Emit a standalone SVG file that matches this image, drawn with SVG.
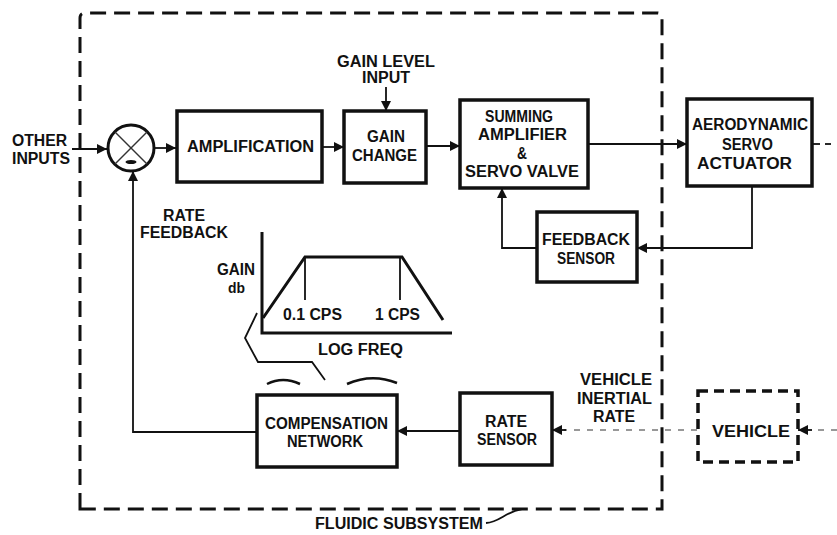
<svg xmlns="http://www.w3.org/2000/svg" width="837" height="535" viewBox="0 0 837 535">
<style>
.t{font-family:"Liberation Sans",Arial,sans-serif;font-weight:bold;font-size:16px;fill:#111;text-anchor:middle}
.box{fill:none;stroke:#111;stroke-width:3.5}
.ln{fill:none;stroke:#111;stroke-width:1.8}
.g{fill:none;stroke:#111;stroke-width:3}
.dash{fill:none;stroke:#111;stroke-width:3;stroke-dasharray:16 8}
.dot{fill:none;stroke:#777;stroke-width:1.3;stroke-dasharray:6 7}
</style>
<defs>
<marker id="ah" viewBox="0 0 10 10" refX="10" refY="5" markerWidth="12" markerHeight="10" markerUnits="userSpaceOnUse" orient="auto">
<path d="M0,0 L10,5 L0,10 Z" fill="#111"/>
</marker>
</defs>
<rect width="837" height="535" fill="#fff"/>

<g id="fluidic-subsystem">
<path class="dash" d="M80,509 L80,18 Q80,13 85,13 L657,13 Q662,13 662,18 L662,509 Z"/>
<text class="t" x="399" y="529" textLength="168" lengthAdjust="spacingAndGlyphs">FLUIDIC SUBSYSTEM</text>
<path class="ln" d="M486,523 C500,522 505,512 522,509"/>
</g>

<g id="connectors">
<line class="ln" x1="72" y1="149" x2="107" y2="149" marker-end="url(#ah)"/>
<line class="ln" x1="155" y1="148" x2="176" y2="148" marker-end="url(#ah)"/>
<line class="ln" x1="322" y1="147" x2="344" y2="147" marker-end="url(#ah)"/>
<line class="ln" x1="426" y1="146" x2="460" y2="146" marker-end="url(#ah)"/>
<line class="ln" x1="386" y1="87" x2="386" y2="111" marker-end="url(#ah)"/>
<line class="ln" x1="588" y1="144" x2="687" y2="144" marker-end="url(#ah)"/>
<line class="ln" x1="812" y1="144" x2="820" y2="144"/>
<line class="ln" x1="825" y1="144" x2="831" y2="144"/>
<path class="ln" d="M752,186 L752,248 L637,248" marker-end="url(#ah)"/>
<path class="ln" d="M537,248 L502,248 L502,188" marker-end="url(#ah)"/>
<path class="ln" d="M257,432 L133,432 L133,171" marker-end="url(#ah)"/>
<line class="ln" x1="460" y1="431" x2="397" y2="431" marker-end="url(#ah)"/>
<line class="dot" x1="697" y1="430" x2="564" y2="430"/>
<line class="ln" x1="566" y1="430" x2="552" y2="430" marker-end="url(#ah)"/>
<line class="dot" x1="837" y1="430" x2="812" y2="430"/>
<line class="ln" x1="812" y1="430" x2="798" y2="430" marker-end="url(#ah)"/>
<text class="t" x="184" y="220.5" textLength="42" lengthAdjust="spacingAndGlyphs">RATE</text>
<text class="t" x="184" y="237.5" textLength="88" lengthAdjust="spacingAndGlyphs">FEEDBACK</text>
<text class="t" x="386" y="67" textLength="98" lengthAdjust="spacingAndGlyphs">GAIN LEVEL</text>
<text class="t" x="386" y="83" textLength="48" lengthAdjust="spacingAndGlyphs">INPUT</text>
<text class="t" x="616" y="384.5" textLength="72" lengthAdjust="spacingAndGlyphs">VEHICLE</text>
<text class="t" x="614.5" y="403.5" textLength="75" lengthAdjust="spacingAndGlyphs">INERTIAL</text>
<text class="t" x="614" y="422" textLength="42" lengthAdjust="spacingAndGlyphs">RATE</text>
<text class="t" x="39.5" y="146" textLength="55" lengthAdjust="spacingAndGlyphs">OTHER</text>
<text class="t" x="41" y="164" textLength="58" lengthAdjust="spacingAndGlyphs">INPUTS</text>
</g>

<g id="summing-junction">
<circle cx="131" cy="148" r="23" fill="none" stroke="#111" stroke-width="3"/>
<line x1="115" y1="132" x2="147" y2="164" stroke="#333" stroke-width="1.5"/>
<line x1="147" y1="132" x2="115" y2="164" stroke="#333" stroke-width="1.5"/>
<ellipse cx="131" cy="162" rx="5.5" ry="2" fill="#111"/>
</g>

<g id="amplification">
<rect class="box" x="177" y="111" width="145" height="71"/>
<text class="t" x="250.5" y="152" textLength="127" lengthAdjust="spacingAndGlyphs">AMPLIFICATION</text>
</g>

<g id="gain-change">
<rect class="box" x="344" y="111" width="82" height="72"/>
<text class="t" x="386" y="142" textLength="38" lengthAdjust="spacingAndGlyphs">GAIN</text>
<text class="t" x="384.5" y="160.5" textLength="65" lengthAdjust="spacingAndGlyphs">CHANGE</text>
</g>

<g id="summing-amplifier">
<rect class="box" x="460" y="100" width="128" height="88"/>
<text class="t" x="519" y="121.5" textLength="68" lengthAdjust="spacingAndGlyphs">SUMMING</text>
<text class="t" x="522.5" y="139.5" textLength="89" lengthAdjust="spacingAndGlyphs">AMPLIFIER</text>
<text class="t" x="522" y="158.5" textLength="10" lengthAdjust="spacingAndGlyphs">&amp;</text>
<text class="t" x="522" y="176.5" textLength="114" lengthAdjust="spacingAndGlyphs">SERVO VALVE</text>
</g>

<g id="servo-actuator">
<rect class="box" x="687" y="99" width="125" height="87"/>
<text class="t" x="750" y="130" textLength="116" lengthAdjust="spacingAndGlyphs">AERODYNAMIC</text>
<text class="t" x="747.5" y="150" textLength="51" lengthAdjust="spacingAndGlyphs">SERVO</text>
<text class="t" x="744.5" y="169" textLength="95" lengthAdjust="spacingAndGlyphs">ACTUATOR</text>
</g>

<g id="feedback-sensor">
<rect class="box" x="537" y="212" width="100" height="70"/>
<text class="t" x="586" y="245" textLength="88" lengthAdjust="spacingAndGlyphs">FEEDBACK</text>
<text class="t" x="586" y="264" textLength="58" lengthAdjust="spacingAndGlyphs">SENSOR</text>
</g>

<g id="gain-plot">
<path class="g" d="M262,232 L262,333 L452,333"/>
<path class="g" d="M263,318 L305,257 L402,257 L443,320"/>
<line class="ln" x1="305" y1="257" x2="305" y2="300" stroke-width="2"/>
<line class="ln" x1="400" y1="257" x2="400" y2="300" stroke-width="2"/>
<text class="t" x="236" y="274.5" textLength="38" lengthAdjust="spacingAndGlyphs">GAIN</text>
<text class="t" x="236.5" y="293" style="font-size:14px" textLength="17" lengthAdjust="spacingAndGlyphs">db</text>
<text class="t" x="312.5" y="319.5" textLength="59" lengthAdjust="spacingAndGlyphs">0.1 CPS</text>
<text class="t" x="397.5" y="319.5" textLength="45" lengthAdjust="spacingAndGlyphs">1 CPS</text>
<text class="t" x="360.5" y="354.5" textLength="85" lengthAdjust="spacingAndGlyphs">LOG FREQ</text>
<path class="ln" stroke-width="2.2" d="M257,313 L245,338 L258,362 L312,362 L325,380"/>
<path fill="none" stroke="#111" stroke-width="2.5" d="M267,384 Q283,376 300,384"/>
<path fill="none" stroke="#111" stroke-width="2.5" d="M347,384 Q372,373 397,383"/>
</g>

<g id="compensation-network">
<rect class="box" x="257" y="395" width="140" height="72"/>
<text class="t" x="326.5" y="428.5" textLength="123" lengthAdjust="spacingAndGlyphs">COMPENSATION</text>
<text class="t" x="325" y="447" textLength="76" lengthAdjust="spacingAndGlyphs">NETWORK</text>
</g>

<g id="rate-sensor">
<rect class="box" x="460" y="393" width="92" height="72"/>
<text class="t" x="506" y="426.5" textLength="42" lengthAdjust="spacingAndGlyphs">RATE</text>
<text class="t" x="507" y="445" textLength="60" lengthAdjust="spacingAndGlyphs">SENSOR</text>
</g>

<g id="vehicle">
<rect x="698" y="391" width="100" height="71" fill="none" stroke="#111" stroke-width="3.5" stroke-dasharray="10 6"/>
<text class="t" x="751" y="436.5" textLength="78" lengthAdjust="spacingAndGlyphs">VEHICLE</text>
</g>
</svg>
